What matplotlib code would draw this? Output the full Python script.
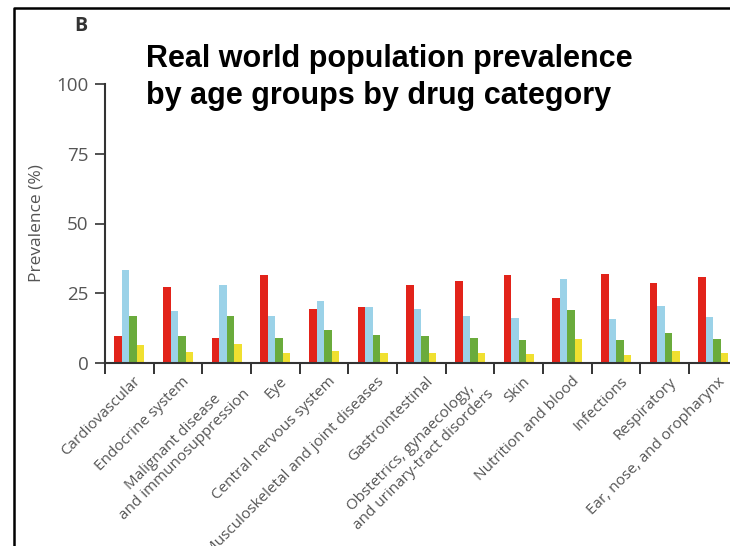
import numpy as np
import matplotlib.pyplot as plt
from matplotlib.lines import Line2D

categories = ['Cardiovascular', 'Endocrine system',
              'Malignant disease\nand immunosuppression', 'Eye',
              'Central nervous system', 'Musculoskeletal and joint diseases',
              'Gastrointestinal',
              'Obstetrics, gynaecology,\nand urinary-tract disorders',
              'Skin', 'Nutrition and blood', 'Infections', 'Respiratory',
              'Ear, nose, and oropharynx']

# prevalence (%) per age group, one list per bar colour
red_vals = [9.6, 27.1, 9.1, 31.4, 19.4, 20.1, 28.1, 29.3, 31.5, 23.2, 31.9, 28.8, 30.9]
blue_vals = [33.3, 18.7, 28.1, 17.0, 22.1, 20.1, 19.2, 17.0, 16.2, 30.0, 15.6, 20.5, 16.6]
green_vals = [17.0, 9.8, 17.0, 9.0, 12.0, 10.0, 9.8, 9.0, 8.4, 19.0, 8.2, 10.7, 8.6]
yellow_vals = [6.4, 3.9, 6.7, 3.6, 4.4, 3.6, 3.7, 3.7, 3.1, 8.5, 3.0, 4.2, 3.6]

yticks = [0, 25, 50, 75, 100]

series = [red_vals, blue_vals, green_vals, yellow_vals]
colors = ['#e2231a', '#9bd2e8', '#6aab3c', '#f0e030']

W, H = 730, 546
fig = plt.figure(figsize=(W / 100, H / 100), dpi=100)

# axes: left edge at 105 px, zero line at 363 px, 100 at 84 px, 48.67 px per group
x0, y0, ytop, step = 105, 363, 84, 48.67
ax = fig.add_axes([x0 / W, (H - y0) / H, len(categories) * step / W, (y0 - ytop) / H])

n = len(categories)
x = np.arange(n)
bw = 0.154
for i, (vals, c) in enumerate(zip(series, colors)):
    ax.bar(x + (i - 1.5) * bw, vals, width=bw, color=c, linewidth=0)

ax.set_xlim(-0.5, n - 0.5)
ax.set_ylim(0, 100)
ax.set_yticks(yticks)
ax.set_yticklabels([str(v) for v in yticks], fontsize=13.5, color='#555555',
                   family='Open Sans')
ax.set_ylabel('Prevalence (%)', fontsize=12.5, color='#555555', family='Open Sans',
              labelpad=8)

ax.set_xticks(np.arange(-0.5, n, 1.0))
ax.set_xticklabels([])
ax.set_xticks(x + 0.08, minor=True)
ax.set_xticklabels(categories, minor=True, rotation=45, ha='right', va='top',
                   rotation_mode='anchor', fontsize=11, color='#555555',
                   family='Open Sans', multialignment='center', linespacing=1.2)
ax.tick_params(axis='x', which='minor', length=0, pad=8)
ax.tick_params(axis='x', which='major', length=8, width=1.4, color='#333333',
               direction='out')
ax.tick_params(axis='y', length=7, width=1.2, color='#333333', pad=5)

for s in ['top', 'right']:
    ax.spines[s].set_visible(False)
for s in ['left', 'bottom']:
    ax.spines[s].set_color('#333333')
    ax.spines[s].set_linewidth(1.5)

# panel letter, title and outer frame
fig.text(74 / W, 1 - 16 / H, 'B', fontsize=14, fontweight='bold', color='#333333',
         family='Open Sans', va='top', ha='left')
fig.text(146 / W, 1 - 44 / H,
         'Real world population prevalence\nby age groups by drug category',
         fontsize=22, fontweight='bold', family='Liberation Sans', color='black',
         va='top', ha='left', linespacing=1.3)
fig.add_artist(Line2D([14 / W, 14 / W, 1], [0, 1 - 8 / H, 1 - 8 / H],
                      transform=fig.transFigure, color='black', linewidth=1.8))

fig.savefig('out.png', dpi=100)
